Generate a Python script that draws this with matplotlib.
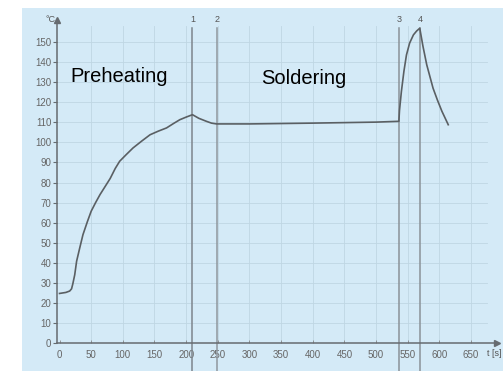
import numpy as np
import matplotlib.pyplot as plt
from matplotlib.patches import Rectangle

# temperature profile
t = [0, 10, 16, 19, 21, 24, 27, 32, 37, 44, 50, 57, 64, 72, 80, 88, 95, 105, 116, 130,
     143, 156, 169, 180, 190, 200, 210, 220, 232, 240, 248,
     300, 400, 500, 536, 537, 540, 544, 548, 553, 559, 564, 569, 574, 580, 590, 597, 604, 614]
temp = [24.7, 25.2, 25.9, 27.0, 29.5, 34, 40.8, 47.5, 54, 60.5, 65.7, 70, 74, 78, 82,
        87, 90.6, 93.8, 97.2, 100.7, 103.8, 105.6, 107.2, 109.4, 111.3, 112.6, 113.8,
        112.0, 110.5, 109.6, 109.2,
        109.2, 109.6, 110.1, 110.5, 116, 125.4, 135.5, 143.6, 149.5, 153.6, 155.5, 156.9,
        148, 138.7, 127, 121, 115.5, 108.8]

marks = [210, 249, 536, 570]
mark_labels = ["1", "2", "3", "4"]

xticks = [0, 50, 100, 150, 200, 250, 300, 350, 400, 450, 500, 550, 600, 650]
yticks = list(range(0, 151, 10))

plt.rcParams['font.family'] = ['Liberation Sans', 'DejaVu Sans']

fig = plt.figure(figsize=(5.03, 3.71), dpi=100)
fig.patch.set_facecolor('white')
bg = '#d4eaf7'
fig.patches.append(Rectangle((22 / 503, 0), 1, 1 - 8 / 371, transform=fig.transFigure,
                             facecolor=bg, edgecolor='none', zorder=-5))

ax = fig.add_axes([57 / 503, 28 / 371, (497 - 57) / 503, (343 - 20) / 371])
ax.set_facecolor('none')
ax.set_xlim(-4, 691)
ax.set_ylim(0, 161)

# grid
gc = '#bfd6e3'
for x in xticks[1:]:
    ax.plot([x, x], [0, 158], color=gc, lw=0.6, zorder=1)
for y in yticks[1:]:
    ax.plot([-4, 675], [y, y], color=gc, lw=0.6, zorder=1)

# phase marker lines
mark_colors = ['#7d858c', '#8f979e', '#8a9299', '#8a9299']
for x, lab, c in zip(marks, mark_labels, mark_colors):
    ax.plot([x, x], [-18, 157], color=c, lw=1.1, clip_on=False, zorder=2)
    ax.text(x, 159, lab, ha='center', va='bottom', fontsize=6.5, color='#555555')

ax.plot(t, temp, color='#5a5f63', lw=1.2, zorder=3)

for s in ['top', 'right']:
    ax.spines[s].set_visible(False)
for s in ['left', 'bottom']:
    ax.spines[s].set_color('#666b70')
    ax.spines[s].set_linewidth(1.1)

ax.plot(0, 1, marker='^', color='#666b70', ms=5, transform=ax.transAxes, clip_on=False)
ax.plot(1, 0, marker='>', color='#666b70', ms=5, transform=ax.transAxes, clip_on=False)

ax.set_xticks(xticks)
ax.set_yticks(yticks)
ax.tick_params(axis='x', length=2, width=0.6, color='#888888', direction='in', pad=5,
               labelsize=7, labelcolor='#666666')
ax.tick_params(axis='y', length=3, width=0.8, color='#666b70', pad=1,
               labelsize=7, labelcolor='#666666')

ax.text(-7, 161, "°C", ha='right', va='center', fontsize=6.5, color='#555555')
fig.text(502 / 503, 1 - 354 / 371, "t [s]", ha='right', va='center',
         fontsize=6.5, color='#555555')

ax.text(17, 133, "Preheating", fontsize=14.5, color='black', va='center')
ax.text(318, 132, "Soldering", fontsize=14.5, color='black', va='center')

fig.savefig('out.png', dpi=100)
